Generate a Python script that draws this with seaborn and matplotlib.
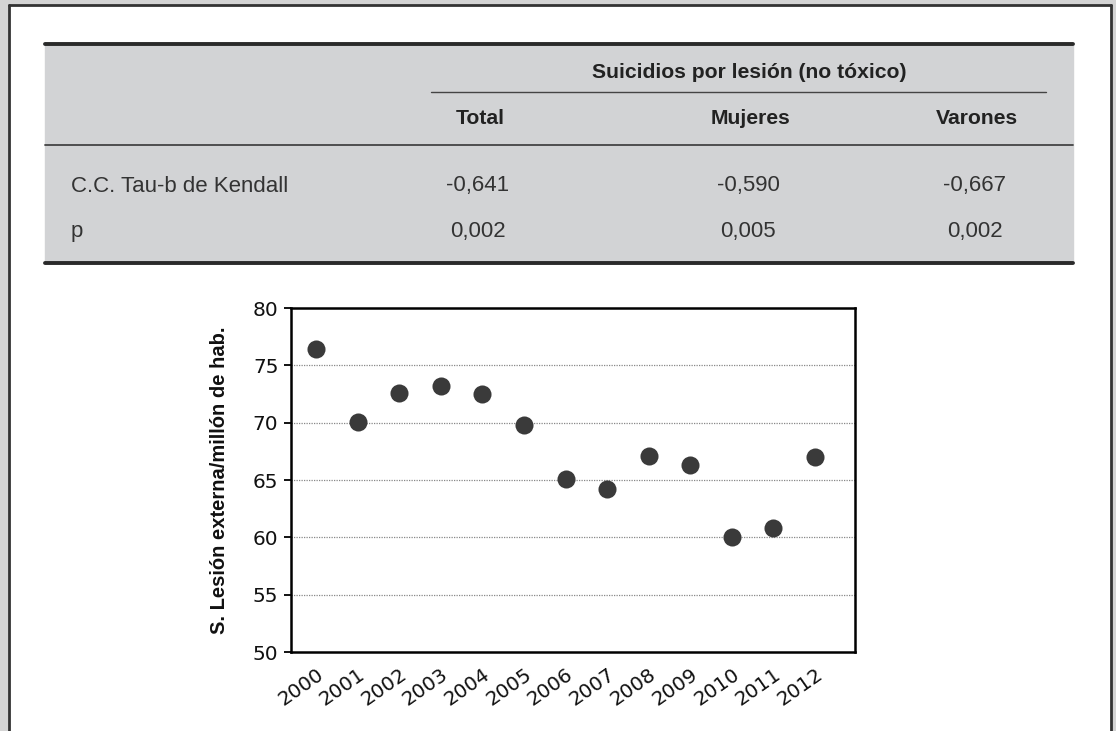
import matplotlib
matplotlib.use("Agg")
import matplotlib.pyplot as plt
import seaborn as sns
import pandas as pd
from matplotlib.patches import Rectangle
from matplotlib.lines import Line2D

years = ["2000", "2001", "2002", "2003", "2004", "2005", "2006", "2007",
         "2008", "2009", "2010", "2011", "2012"]
rates = [76.4, 70.1, 72.6, 73.2, 72.5, 69.8, 65.1, 64.2, 67.1, 66.3, 60.0, 60.8, 67.0]

table_group = "Suicidios por lesión (no tóxico)"
table_cols = ["Total", "Mujeres", "Varones"]
table_rows = ["C.C. Tau-b de Kendall", "p"]
tau_values = ["-0,641", "-0,590", "-0,667"]
p_values = ["0,002", "0,005", "0,002"]

sns.set_theme(style="white")
plt.rcParams['font.family'] = ['Liberation Sans', 'DejaVu Sans']

W, H = 1116, 731
fig = plt.figure(figsize=(W / 100, H / 100), dpi=100)
fig.patch.set_facecolor("white")

def fx(x): return x / W
def fy(y): return 1 - y / H

# outer frame
grey = "#d4d4d4"
fig.patches.append(Rectangle((0, 0), fx(8), 1, transform=fig.transFigure, color=grey, zorder=0))
fig.patches.append(Rectangle((fx(1112), 0), 1, 1, transform=fig.transFigure, color=grey, zorder=0))
fig.patches.append(Rectangle((0, fy(4)), 1, 1, transform=fig.transFigure, color=grey, zorder=0))
for l in [Line2D([fx(9), fx(9)], [0, fy(5)]),
          Line2D([fx(1110.5), fx(1110.5)], [0, fy(5)]),
          Line2D([fx(9), fx(1110.5)], [fy(5), fy(5)])]:
    l.set_transform(fig.transFigure); l.set_color("#333333"); l.set_linewidth(2.0)
    fig.lines.append(l)

# table
fig.patches.append(Rectangle((fx(45), fy(263)), fx(1073 - 45), (263 - 43) / H,
                             transform=fig.transFigure, color="#d2d3d5", zorder=1))
def hline(x0, x1, y, lw, c="#2a2a2a"):
    l = Line2D([fx(x0), fx(x1)], [fy(y), fy(y)], transform=fig.transFigure,
               color=c, linewidth=lw, zorder=2)
    fig.lines.append(l)
hline(45, 1073, 43.5, 2.8)
hline(45, 1073, 263, 2.8)
hline(45, 1073, 145, 1.3, "#444444")
hline(431, 1046, 92, 1.0, "#444444")

col_x = [480, 750, 977]
fig.text(fx(749), fy(72), table_group, fontsize=15.2, fontweight="bold",
         ha="center", va="center", color="#222222")
for x, c in zip(col_x, table_cols):
    fig.text(fx(x), fy(119), c, fontsize=15.2, fontweight="bold",
             ha="center", va="center", color="#222222")
for ry, label, vals in [(186, table_rows[0], tau_values), (232, table_rows[1], p_values)]:
    fig.text(fx(71), fy(ry), label, fontsize=16, ha="left",
             va="center", color="#333333")
    for x, v in zip(col_x, vals):
        fig.text(fx(x - 2), fy(ry), v, fontsize=16, ha="center",
                 va="center", color="#333333")

# chart
ax = fig.add_axes([fx(291), fy(652), fx(855 - 291), (652 - 308) / H])
df = pd.DataFrame({"year": years, "rate": rates})
sns.stripplot(data=df, x="year", y="rate", jitter=False, color="#3a3a3a",
              size=13, linewidth=0, ax=ax, zorder=3)
ax.set_xlim(-0.6, 12.96)
ax.set_ylim(50, 80)
ax.set_yticks([50, 55, 60, 65, 70, 75, 80])
for yv in [55, 60, 65, 70, 75]:
    ax.axhline(yv, color="#888888", linestyle=(0, (1, 1)), linewidth=0.9, zorder=1)
for s in ax.spines.values():
    s.set_color("black"); s.set_linewidth(1.8)
ax.tick_params(axis="y", left=True, length=5, width=1.3, color="black",
               labelsize=14.5, pad=4, labelcolor="#111111")
ax.tick_params(axis="x", bottom=False, labelsize=14.3, pad=3, labelcolor="#111111")
for t in ax.get_yticklabels() + ax.get_xticklabels():
    t.set_family("DejaVu Sans")
plt.setp(ax.get_xticklabels(), rotation=35, ha="right", rotation_mode="anchor")
ax.set_xlabel("")
ax.set_ylabel("S. Lesión externa/millón de hab.", fontsize=14.5, fontweight="bold",
              labelpad=17, color="#111111")

fig.savefig("out.png", dpi=100)
